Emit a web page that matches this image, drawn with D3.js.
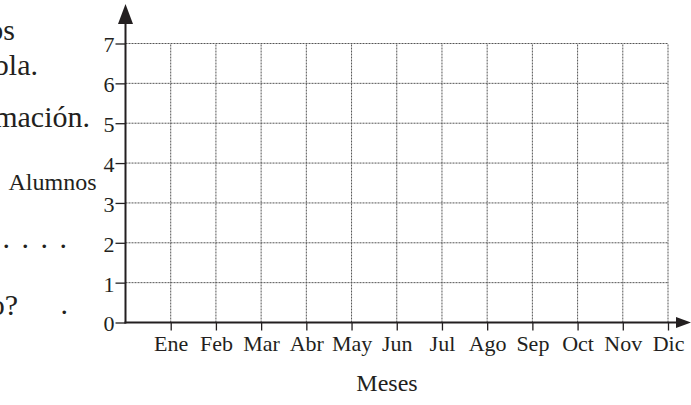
<!DOCTYPE html>
<html>
<head>
<meta charset="utf-8">
<script src="https://cdn.jsdelivr.net/npm/d3@7"></script>
<style>
	body { margin: 0; background: #fff; }
	svg text { font-family: "Liberation Serif", "Times New Roman", serif; fill: #231f20; }
</style>
</head>
<body>
<div id="chart"></div>
<script>

// months on the x axis, student counts on the y axis (the grid is empty)
let months = ["Ene", "Feb", "Mar", "Abr", "May", "Jun", "Jul", "Ago", "Sep", "Oct", "Nov", "Dic"];
let yTicks = [0, 1, 2, 3, 4, 5, 6, 7];
let xLabel = "Meses";
let yLabel = "Alumnos";

// cut off pieces of the worksheet text on the left
let fragments = ["os", "bla.", "mación.", ". . . .", "o?", "."];

let width = 691, height = 405;
let serif = "'Liberation Serif', 'Times New Roman', serif";

let svg = d3.select("#chart").append("svg")
	.attr("width", width)
	.attr("height", height);

let x = d3.scaleLinear()
	.domain([0, months.length])
	.range([125.5, 668]);

let y = d3.scaleLinear()
	.domain([0, 7])
	.range([322.5, 43.5]);

let ink = "#231f20";

// dotted grid
let grid = svg.append("g")
	.attr("stroke", "#555")
	.attr("stroke-width", 1)
	.attr("stroke-dasharray", "2,1");

grid.selectAll(".hgrid")
	.data(yTicks.filter(d => d > 0))
	.enter()
	.append("line")
	.attr("class", "hgrid")
	.attr("x1", x(0))
	.attr("x2", x(months.length))
	.attr("y1", d => y(d))
	.attr("y2", d => y(d));

grid.selectAll(".vgrid")
	.data(months)
	.enter()
	.append("line")
	.attr("class", "vgrid")
	.attr("x1", (d, i) => x(i + 1))
	.attr("x2", (d, i) => x(i + 1))
	.attr("y1", y(0))
	.attr("y2", y(7));

// y axis
let yAxis = d3.axisLeft(y)
	.tickValues(yTicks)
	.tickSize(10)
	.tickPadding(1)
	.tickFormat(d3.format("d"));

let yg = svg.append("g")
	.attr("transform", `translate(${x(0)},0)`)
	.call(yAxis)
	.attr("font-family", null);
yg.select(".domain").remove();
yg.selectAll("line").attr("stroke", ink).attr("stroke-width", 1.3);
yg.selectAll("text")
	.style("font-family", serif)
	.style("font-size", "22px")
	.attr("fill", ink)
	.attr("dy", "0.38em");

// x axis
let xAxis = d3.axisBottom(x)
	.tickValues(d3.range(1, months.length + 1))
	.tickSize(8)
	.tickPadding(5)
	.tickFormat(d => months[d - 1]);

let xg = svg.append("g")
	.attr("transform", `translate(0,${y(0)})`)
	.call(xAxis)
	.attr("font-family", null);
xg.select(".domain").remove();
xg.selectAll("line").attr("stroke", ink).attr("stroke-width", 1.3);
xg.selectAll("text")
	.style("font-family", serif)
	.style("font-size", "22px")
	.attr("fill", ink);

// axis lines with arrows
svg.append("line")
	.attr("x1", x(0)).attr("x2", x(0))
	.attr("y1", y(0) + 1).attr("y2", 22)
	.attr("stroke", ink).attr("stroke-width", 2);

svg.append("path")
	.attr("d", `M${x(0)},4 L${x(0) - 7.5},24 L${x(0) + 7.5},24 Z`)
	.attr("fill", ink);

svg.append("line")
	.attr("x1", x(0) - 1).attr("x2", 678)
	.attr("y1", y(0)).attr("y2", y(0))
	.attr("stroke", ink).attr("stroke-width", 2);

svg.append("path")
	.attr("d", `M691,${y(0)} L676,${y(0) - 5.5} L676,${y(0) + 5.5} Z`)
	.attr("fill", ink);

// axis titles
svg.append("text")
	.attr("x", 387)
	.attr("y", 391)
	.attr("text-anchor", "middle")
	.style("font-size", "24px")
	.text(xLabel);

svg.append("text")
	.attr("x", 52.5)
	.attr("y", 190)
	.attr("text-anchor", "middle")
	.style("font-size", "24px")
	.text(yLabel);

// text pieces at the left edge
let fragPos = [[15, 40], [38, 75], [90, 127], [69, 248], [18, 315], [68, 314]];

svg.selectAll(".frag")
	.data(fragments)
	.enter()
	.append("text")
	.attr("class", "frag")
	.attr("x", (d, i) => fragPos[i][0])
	.attr("y", (d, i) => fragPos[i][1])
	.attr("text-anchor", "end")
	.style("font-size", "30px")
	.attr("letter-spacing", d => d === ". . . ." ? "2px" : null)
	.text(d => d);

</script>
</body>
</html>
